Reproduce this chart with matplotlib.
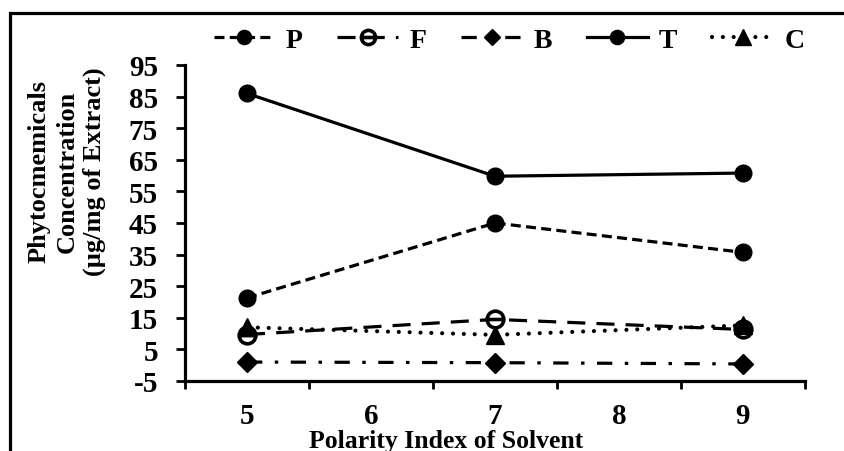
import numpy as np
import matplotlib
matplotlib.use("Agg")
import matplotlib.pyplot as plt
from matplotlib.path import Path
from matplotlib.patches import Rectangle
from matplotlib.ticker import FixedLocator

plt.rcParams['font.family'] = ['Liberation Serif', 'DejaVu Serif']
plt.rcParams['font.weight'] = 'bold'
plt.rcParams['lines.scale_dashes'] = False

# ---- data ----
polarity = [5, 7, 9]
P = [21.3, 45.0, 35.7]
F = [9.7, 14.5, 11.3]
B = [1.0, 0.8, 0.4]
T = [86.0, 59.8, 60.8]
C = [12.0, 9.6, 12.6]
series_names = ["P", "F", "B", "T", "C"]
x_ticklabels = ["5", "6", "7", "8", "9"]
y_ticks = [-5, 5, 15, 25, 35, 45, 55, 65, 75, 85, 95]

W, H = 844, 452
fig = plt.figure(figsize=(W / 100, H / 100), dpi=100)
fig.patch.set_facecolor('white')

ax = fig.add_axes([185 / W, 1 - 382 / H, (805 - 185) / W, (382 - 66) / H])
ax.set_facecolor('white')

# custom theta marker for F
circ = Path.unit_circle()
verts = np.concatenate([circ.vertices, [[-1, 0], [1, 0]]])
codes = np.concatenate([circ.codes, [Path.MOVETO, Path.LINETO]])
theta_marker = Path(verts, codes)

lw = 2.3
ax.plot(polarity, P, color='black', lw=lw, dashes=(7.2, 3.8), marker='o',
        markersize=12, label=series_names[0])
ax.plot(polarity, F, color='black', lw=lw, dashes=(13, 8), marker=theta_marker,
        markersize=12, markerfacecolor='white', markeredgewidth=2.6,
        label=series_names[1])
ax.plot(polarity, B, color='black', lw=lw, dashes=(11, 9, 2.5, 9), marker='D',
        markersize=10, label=series_names[2])
ax.plot(polarity, T, color='black', lw=lw, linestyle='-', marker='o',
        markersize=12, label=series_names[3])
ax.plot(polarity, C, color='black', lw=3.0, dashes=(0.01, 7.8),
        dash_capstyle='round', marker='^', markersize=13,
        label=series_names[4])

ax.set_xlim(4.5, 9.5)
ax.set_ylim(-5, 95)

for s in ['top', 'right']:
    ax.spines[s].set_visible(False)
for s in ['left', 'bottom']:
    ax.spines[s].set_linewidth(2.3)

ax.yaxis.set_major_locator(FixedLocator(y_ticks))
ax.set_yticklabels([str(v) for v in y_ticks])
ax.tick_params(axis='y', direction='out', length=6.5, width=2.0, pad=13.0,
               labelsize=21)

ax.xaxis.set_major_locator(FixedLocator([5, 6, 7, 8, 9]))
ax.set_xticklabels(x_ticklabels)
ax.xaxis.set_minor_locator(FixedLocator([4.5, 5.5, 6.5, 7.5, 8.5, 9.5]))
ax.tick_params(axis='x', which='major', length=0, pad=15.0, labelsize=21)
ax.tick_params(axis='x', which='minor', direction='out', length=6, width=2.0)

for lab in ax.get_xticklabels() + ax.get_yticklabels():
    lab.set_fontweight('bold')

# axis titles
fig.text(446 / W, 1 - 442 / H, "Polarity Index of Solvent", ha='center',
         va='center', fontsize=18.5, fontweight='bold')
fig.text(67 / W, 1 - 172 / H,
         "Phytocmemicals\nConcentration\n(\u00b5g/mg of Extract)",
         ha='center', va='center', rotation=90, fontsize=19,
         fontweight='bold', linespacing=1.25, multialignment='center')

leg = fig.legend(loc='center', bbox_to_anchor=(509 / W, 1 - 41 / H), ncol=5,
                 frameon=False, fontsize=20, handlelength=2.2,
                 handletextpad=0.4, columnspacing=1.25, borderpad=0,
                 markerscale=0.85)
for t in leg.get_texts():
    t.set_fontweight('bold')

# outer chart border (extends beyond right/bottom edges)
fig.patches.append(Rectangle((10 / W, -0.2), 1.5, 1.2 - 14 / H,
                             transform=fig.transFigure, fill=False,
                             lw=2.3, edgecolor='black'))

fig.savefig("out.png", dpi=100, facecolor='white')
